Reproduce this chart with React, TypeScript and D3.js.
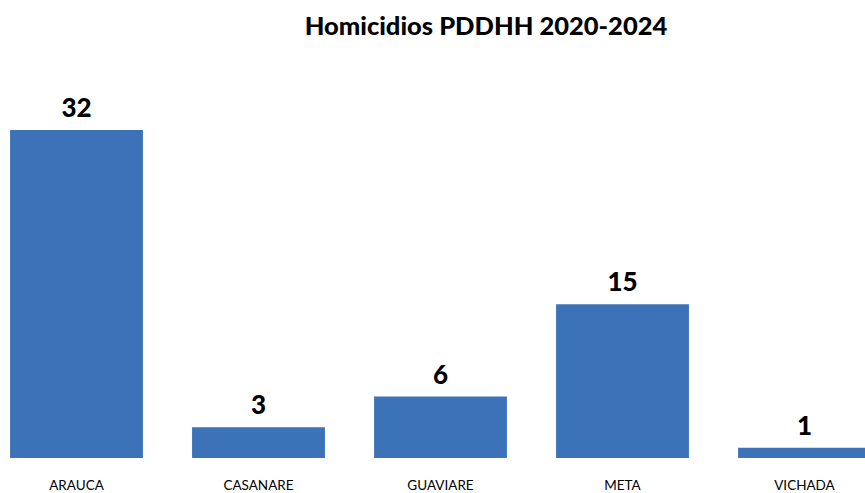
import * as d3 from 'd3';

const categories = ['ARAUCA', 'CASANARE', 'GUAVIARE', 'META', 'VICHADA'];
const homicides = [32, 3, 6, 15, 1];
const title = 'Homicidios PDDHH 2020-2024';

const width = 865;
const height = 493;
const baseline = 458;
const font = 'Lato, "Open Sans", sans-serif';

export default function App() {
  // bands run a bit past the right edge, the last bar is cut like in the source
  const x = d3
    .scaleBand<string>()
    .domain(categories)
    .range([-14.5, 895.5])
    .paddingInner(0.27)
    .paddingOuter(0.135);

  const y = d3.scaleLinear().domain([0, 32]).range([baseline, 130]);

  return (
    <svg
      width={width}
      height={height}
      style={{ position: 'absolute', left: 0, top: 0, background: '#fff' }}
    >
      <text
        x={486}
        y={35}
        textAnchor="middle"
        fontFamily={font}
        fontWeight={900}
        fontSize={25.5}
        fill="#000"
      >
        {title}
      </text>
      {categories.map((c, i) => {
        const x0 = x(c) || 0;
        const cx = x0 + x.bandwidth() / 2;
        return (
          <g key={c}>
            <rect
              x={x0}
              y={y(homicides[i])}
              width={x.bandwidth()}
              height={baseline - y(homicides[i])}
              fill="#3c73b8"
            />
            <text
              x={cx}
              y={y(homicides[i]) - 13}
              textAnchor="middle"
              fontFamily={font}
              fontWeight={900}
              fontSize={26}
              fill="#000"
            >
              {homicides[i]}
            </text>
            <text
              x={cx}
              y={490}
              textAnchor="middle"
              fontFamily={font}
              fontSize={13.5}
              fill="#000"
            >
              {c}
            </text>
          </g>
        );
      })}
    </svg>
  );
}
